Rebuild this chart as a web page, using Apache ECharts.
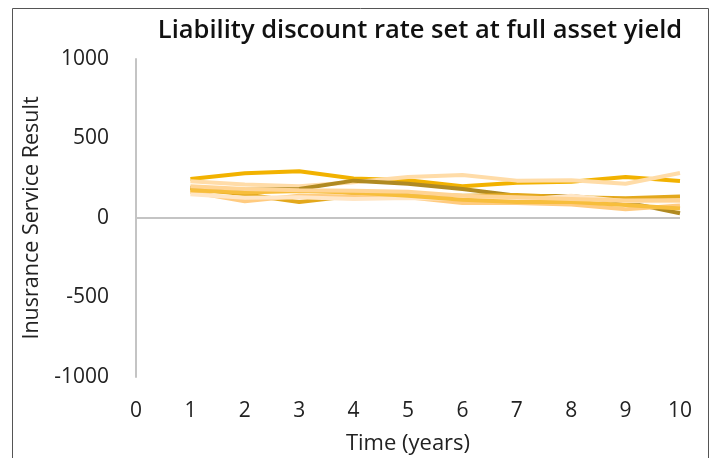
<!DOCTYPE html>
<html>
<head>
<meta charset="utf-8">
<script src="https://cdn.jsdelivr.net/npm/echarts@6/dist/echarts.min.js"></script>
<style>
  html, body { margin: 0; padding: 0; background: #fff; }
  #chart { width: 714px; height: 458px; }
</style>
</head>
<body>
<div id="chart"></div>
<script>
// Time axis (years) and simulated insurance service result paths
const years = [1, 2, 3, 4, 5, 6, 7, 8, 9, 10];
const xTicks = [0, 1, 2, 3, 4, 5, 6, 7, 8, 9, 10];
const yTicks = [-1000, -500, 0, 500, 1000];

const path1 = [245, 282, 294, 248, 238, 200, 222, 228, 258, 233];
const path2 = [231, 210, 200, 225, 258, 270, 235, 238, 215, 283];
const path3 = [190, 178, 182, 235, 215, 182, 140, 138, 100, 30];
const path4 = [185, 150, 100, 140, 150, 140, 145, 130, 125, 135];
const path5 = [165, 105, 140, 135, 130, 95, 95, 85, 55, 78];
const path6 = [150, 128, 130, 120, 125, 120, 112, 140, 105, 105];
const path7 = [175, 160, 170, 160, 140, 115, 100, 100, 82, 60];
const path8 = [200, 182, 175, 172, 165, 140, 130, 120, 110, 112];

const paths = [
  { name: 'Path 1', data: path1, color: '#F2B200' },
  { name: 'Path 2', data: path2, color: '#FFDCA8' },
  { name: 'Path 3', data: path3, color: '#B08A22' },
  { name: 'Path 4', data: path4, color: '#E3A81C' },
  { name: 'Path 5', data: path5, color: '#FFCB80' },
  { name: 'Path 6', data: path6, color: '#FFE6C6' },
  { name: 'Path 7', data: path7, color: '#F7BE3C' },
  { name: 'Path 8', data: path8, color: '#FFD494' }
];

const chart = echarts.init(document.getElementById('chart'), null, { renderer: 'canvas' });
const FONT = 'Open Sans';

const series = paths.map(p => ({
  name: p.name,
  type: 'line',
  data: years.map((t, i) => [t, p.data[i]]),
  showSymbol: false,
  lineStyle: { color: p.color, width: 4 },
  itemStyle: { color: p.color },
  z: 3
}));

// zero reference line across the plot
series.push({
  type: 'line',
  data: [],
  markLine: {
    silent: true,
    symbol: 'none',
    label: { show: false },
    lineStyle: { color: '#c4c4c4', width: 2, type: 'solid' },
    data: [[{ coord: [0, 0] }, { coord: [10, 0] }]]
  },
  z: 2
});

chart.setOption({
  animation: false,
  backgroundColor: '#ffffff',
  title: {
    text: 'Liability discount rate set at full asset yield',
    left: 415,
    top: 13,
    textAlign: 'center',
    textStyle: { fontFamily: FONT, fontSize: 25.5, fontWeight: 600, color: '#111' }
  },
  graphic: [{
    type: 'rect',
    shape: { x: 12.5, y: 8.5, width: 696, height: 470 },
    style: { fill: 'none', stroke: '#555', lineWidth: 1 },
    silent: true
  }],
  grid: { left: 136, right: 34, top: 59, bottom: 81, containLabel: false, outerBoundsMode: 'none' },
  xAxis: {
    type: 'value',
    min: 0, max: 10, interval: 1,
    name: 'Time (years)',
    nameLocation: 'middle',
    nameGap: 56,
    nameTextStyle: { fontFamily: FONT, fontSize: 22, color: '#222' },
    axisLine: { show: false },
    axisTick: { show: false },
    splitLine: { show: false },
    axisLabel: {
      margin: 24,
      fontFamily: FONT, fontSize: 21, color: '#222',
      formatter: v => xTicks.includes(v) ? String(v) : ''
    }
  },
  yAxis: {
    type: 'value',
    min: -1000, max: 1000, interval: 500,
    name: 'Inusrance Service Result',
    nameLocation: 'middle',
    nameGap: 90,
    nameTextStyle: { fontFamily: FONT, fontSize: 21.5, color: '#222' },
    axisLine: { show: true, lineStyle: { color: '#c4c4c4', width: 2 } },
    axisTick: { show: false },
    splitLine: { show: false },
    axisLabel: {
      margin: 27,
      fontFamily: FONT, fontSize: 21, color: '#222',
      formatter: v => yTicks.includes(v) ? String(v) : ''
    }
  },
  series: series
});
</script>
</body>
</html>
